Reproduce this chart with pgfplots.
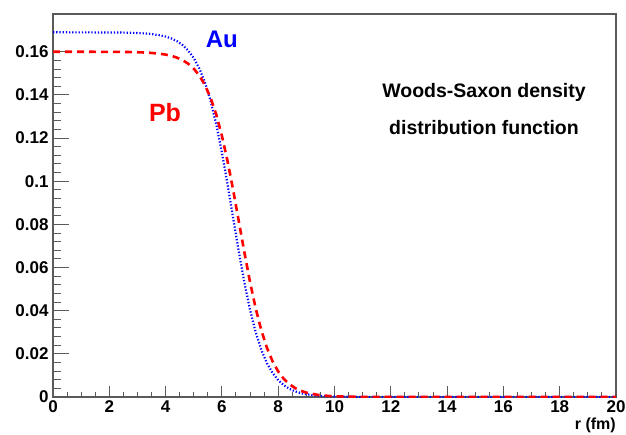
\documentclass[border=0pt]{standalone}
\usepackage{pgfplots}
\pgfplotsset{compat=1.18}
\usepackage{fontspec}
\setmainfont{Liberation Sans}
\definecolor{axgrey}{RGB}{90,90,90}
\begin{document}
\begin{tikzpicture}
\path[use as bounding box] (-53pt,-37pt) rectangle (573pt,397pt);
\begin{axis}[
  scale only axis, width=563pt, height=383pt,
  at={(0,0)}, anchor=south west,
  xmin=0, xmax=20, ymin=0, ymax=0.1775,
  xtick={0,2,...,20}, ytick={0,0.02,...,0.161},
  minor x tick num=3, minor y tick num=4,
  tick align=inside, xtick pos=left, ytick pos=left,
  major tick length=16pt, minor tick length=8pt,
  x tick style={/pgfplots/major tick length=11pt,/pgfplots/minor tick length=5pt},
  axis line style={axgrey, line width=1.3pt},
  every tick/.style={axgrey, line width=1pt},
  scaled y ticks=false,
  /pgf/number format/assume math mode=true,
  yticklabel style={/pgf/number format/fixed, /pgf/number format/precision=2, font=\fontsize{17}{20}\selectfont\bfseries, xshift=-1pt},
  xticklabel style={font=\fontsize{17}{20}\selectfont\bfseries, yshift=0pt},
  xlabel={r (fm)},
  xlabel style={at={(rel axis cs:1,0)}, anchor=north east, yshift=-21pt, font=\fontsize{16}{19}\selectfont\bfseries, inner sep=0pt},
  clip=true,
]
\addplot[blue, line width=2.2pt, dash pattern=on 1.3pt off 1.9pt] coordinates {
(0,0.16900) (1,0.16899) (2,0.16895) (2.5,0.16888) (3,0.16870) (3.4,0.16836) (3.8,0.16765)
(4.0,0.16705) (4.2,0.16618) (4.4,0.16493) (4.6,0.16314) (4.8,0.16062) (5.0,0.15709)
(5.2,0.15223) (5.4,0.14568) (5.6,0.13710) (5.8,0.12629) (6.0,0.11330) (6.2,0.09858)
(6.4,0.08292) (6.6,0.06737) (6.8,0.05294) (7.0,0.04037) (7.2,0.03001) (7.4,0.02186)
(7.6,0.01568) (7.8,0.01111) (8.0,0.00780) (8.2,0.00545) (8.4,0.00379) (8.6,0.00262)
(8.8,0.00181) (9.0,0.00125) (9.4,0.00060) (9.8,0.00028) (10.4,0.00009) (11,0.00003)
(12,0.00001) (20,0)
};
\addplot[red, line width=2.6pt, dash pattern=on 7pt off 5pt] coordinates {
(0,0.16000) (1,0.15999) (2,0.15997) (2.5,0.15992) (3,0.15979) (3.4,0.15956) (3.8,0.15909)
(4.0,0.15869) (4.2,0.15812) (4.4,0.15730) (4.6,0.15614) (4.8,0.15449) (5.0,0.15217)
(5.2,0.14895) (5.4,0.14452) (5.6,0.13857) (5.8,0.13086) (6.0,0.12110) (6.2,0.10934)
(6.4,0.09590) (6.6,0.08147) (6.8,0.06693) (7.0,0.05323) (7.2,0.04110) (7.4,0.03093)
(7.6,0.02280) (7.8,0.01653) (8.0,0.01183) (8.2,0.00839) (8.4,0.00592) (8.6,0.00415)
(8.8,0.00290) (9.0,0.00202) (9.4,0.00098) (9.8,0.00047) (10.4,0.00016) (11,0.00005)
(12,0.00001) (20,0)
};
\node[blue, font=\fontsize{24}{28}\selectfont\bfseries] at (axis cs:6.0,0.1657) {Au};
\node[red, font=\fontsize{25}{29}\selectfont\bfseries] at (axis cs:3.98,0.1318) {Pb};
\node[font=\fontsize{19.5}{23}\selectfont\bfseries] at (axis cs:15.31,0.1411) {Woods-Saxon density};
\node[font=\fontsize{19.5}{23}\selectfont\bfseries] at (axis cs:15.31,0.1248) {distribution function};
\end{axis}
\end{tikzpicture}
\end{document}
